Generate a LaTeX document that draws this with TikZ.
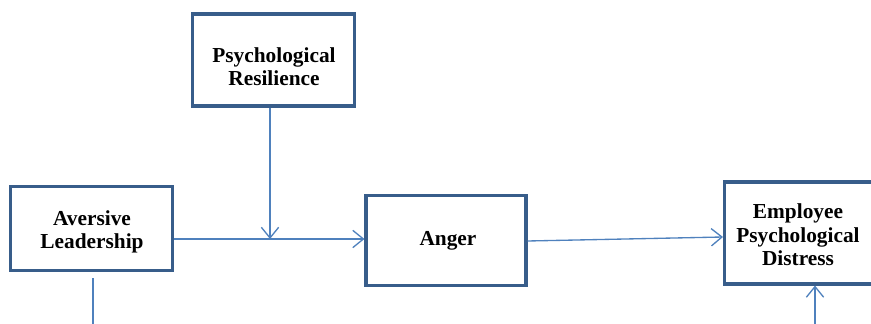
\documentclass[tikz,border=0pt]{standalone}
\usepackage{fontspec}
\setmainfont{Liberation Serif}
\usetikzlibrary{arrows.meta}
\definecolor{boxline}{RGB}{56,93,138}
\definecolor{arrline}{RGB}{79,129,189}
\tikzset{
  px/.style={x=0.75pt,y=-0.75pt},
  box/.style={draw=boxline,line width=2.3pt,fill=white,inner sep=0pt},
  lbl/.style={align=center,inner sep=0pt,font=\fontsize{16}{17.5}\selectfont\bfseries},
  conn/.style={draw=arrline,line width=1pt},
  arr/.style={conn,-{Straight Barb[length=8pt,width=13pt,line width=1pt]}}
}
\begin{document}
\begin{tikzpicture}[px]
\useasboundingbox (0,0) rectangle (871,324);
\node[box,minimum width=121.5pt,minimum height=63pt] (al) at (91.5,228.5) {};
\node[lbl] (alt) at (92,232) {Aversive\\Leadership};
\node[box,minimum width=121pt,minimum height=69pt] (pr) at (273.5,60) {};
\node[lbl] (prt) at (274,67) {Psychological\\Resilience};
\node[box,minimum width=120pt,minimum height=68pt] (an) at (446,240.5) {};
\node[lbl] (ant) at (448,241) {Anger};
\node[box,minimum width=114pt,minimum height=76.5pt,anchor=west] (ed) at (723,233) {};
\node[lbl] (edt) at (798,235) {Employee\\Psychological\\Distress};
\coordinate (j) at (270,239);
\coordinate (b1) at (93,324.5);
\coordinate (b2) at (815,324.5);
\draw[conn] (al.east |- j) -- (j);
\draw[arr] (j) -- (an.west |- j);
\draw[arr] (pr.south -| j) -- (j);
\draw[arr] (an.east |- 0,241) -- (ed.west |- 0,237);
\draw[conn] (93,278) -- (b1) -- (b2);
\draw[arr] (b2) -- (b2 |- ed.south);
\end{tikzpicture}
\end{document}
